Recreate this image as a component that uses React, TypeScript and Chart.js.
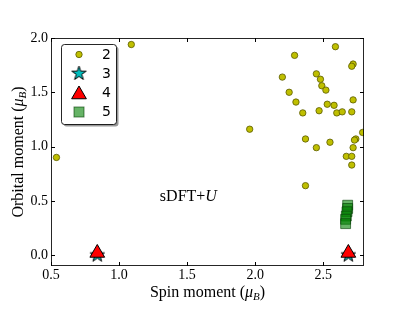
import React, { useEffect, useRef } from 'react';
import { Chart, registerables } from 'chart.js';

Chart.register(...registerables);

// ---- data ----
const spin2 = [0.54, 1.09, 1.96, 2.59, 2.29, 2.72, 2.71, 2.2, 2.45, 2.48, 2.49, 2.52, 2.25, 2.3, 2.72, 2.53, 2.58, 2.47, 2.35, 2.6, 2.64, 2.71, 2.79, 2.74, 2.73, 2.37, 2.55, 2.45, 2.72, 2.67, 2.71, 2.71, 2.37];
const orbital2 = [0.9, 1.94, 1.16, 1.92, 1.84, 1.76, 1.74, 1.64, 1.67, 1.62, 1.56, 1.52, 1.5, 1.41, 1.43, 1.39, 1.38, 1.33, 1.31, 1.31, 1.32, 1.32, 1.13, 1.07, 1.06, 1.07, 1.04, 0.99, 0.99, 0.91, 0.91, 0.83, 0.64];
const spin3 = [0.84, 2.685];
const orbital3 = [0.0, 0.0];
const spin4 = [0.84, 2.685];
const orbital4 = [0.02, 0.02];
const spin5 = [2.68, 2.68, 2.675, 2.67, 2.665, 2.665];
const orbital5 = [0.46, 0.43, 0.4, 0.36, 0.33, 0.29];
const legendLabels = ['2', '3', '4', '5'];
const xLabelText = 'Spin moment (';
const yLabelText = 'Orbital moment (';
const annotationMain = 'sDFT+';
const annotationItalic = 'U';
const annotationPos = [1.3, 0.5];

const toPts = (xs: number[], ys: number[]) => xs.map((x, i) => ({ x, y: ys[i] }));

const YELLOW = '#bfbf00';
const YELLOW_EDGE = '#5a5a00';
const CYAN = '#00bfbf';
const RED = '#ff0000';
const GREEN = 'rgba(0,128,0,0.6)';
const GREEN_EDGE = 'rgba(0,60,0,0.6)';

function makeStar(outer: number, inner: number, fill: string, stroke: string) {
  const size = Math.ceil(outer * 2 + 4);
  const c = document.createElement('canvas');
  c.width = size;
  c.height = size;
  const ctx = c.getContext('2d')!;
  const cx = size / 2;
  const cy = size / 2;
  ctx.beginPath();
  for (let i = 0; i < 10; i++) {
    const r = i % 2 === 0 ? outer : inner;
    const a = -Math.PI / 2 + (i * Math.PI) / 5;
    const px = cx + r * Math.cos(a);
    const py = cy + r * Math.sin(a);
    if (i === 0) ctx.moveTo(px, py);
    else ctx.lineTo(px, py);
  }
  ctx.closePath();
  ctx.fillStyle = fill;
  ctx.fill();
  ctx.lineWidth = 1;
  ctx.strokeStyle = stroke;
  ctx.stroke();
  return c;
}

function drawRich(
  ctx: CanvasRenderingContext2D,
  parts: { t: string; font: string; dy: number }[],
  x: number,
  y: number
) {
  let total = 0;
  for (const p of parts) {
    ctx.font = p.font;
    total += ctx.measureText(p.t).width;
  }
  let cx = x - total / 2;
  ctx.textAlign = 'left';
  ctx.textBaseline = 'alphabetic';
  for (const p of parts) {
    ctx.font = p.font;
    ctx.fillText(p.t, cx, y + p.dy);
    cx += ctx.measureText(p.t).width;
  }
}

function triPath(ctx: CanvasRenderingContext2D, x: number, y: number, r: number) {
  let rad = 0;
  const TWO_THIRDS_PI = (2 * Math.PI) / 3;
  ctx.beginPath();
  ctx.moveTo(x + Math.sin(rad) * r, y - Math.cos(rad) * r);
  rad += TWO_THIRDS_PI;
  ctx.lineTo(x + Math.sin(rad) * r, y - Math.cos(rad) * r);
  rad += TWO_THIRDS_PI;
  ctx.lineTo(x + Math.sin(rad) * r, y - Math.cos(rad) * r);
  ctx.closePath();
}

export default function App() {
  const ref = useRef<HTMLCanvasElement | null>(null);

  useEffect(() => {
    if (!ref.current) return;
    const star = makeStar(7.5, 2.9, CYAN, '#000');

    const decor = {
      id: 'decor',
      afterDraw(chart: any) {
        const ctx: CanvasRenderingContext2D = chart.ctx;
        const { left, right, top, bottom } = chart.chartArea;
        const xs = chart.scales.x;
        const ys = chart.scales.y;
        ctx.save();
        // ticks (inward, all sides)
        ctx.strokeStyle = '#000';
        ctx.lineWidth = 1;
        ctx.beginPath();
        for (const t of xs.ticks) {
          const px = Math.round(xs.getPixelForValue(t.value)) + 0.5;
          ctx.moveTo(px, bottom);
          ctx.lineTo(px, bottom - 4);
          ctx.moveTo(px, top);
          ctx.lineTo(px, top + 4);
        }
        for (const t of ys.ticks) {
          const py = Math.round(ys.getPixelForValue(t.value)) + 0.5;
          ctx.moveTo(left, py);
          ctx.lineTo(left + 4, py);
          ctx.moveTo(right, py);
          ctx.lineTo(right - 4, py);
        }
        ctx.stroke();
        // border
        ctx.strokeStyle = 'rgba(0,0,0,0.85)';
        ctx.strokeRect(Math.round(left) + 0.5, Math.round(top) + 0.5, Math.round(right - left) - 1, Math.round(bottom - top) - 1);

        // annotation
        ctx.fillStyle = '#000';
        const ax = xs.getPixelForValue(annotationPos[0]);
        const ay = ys.getPixelForValue(annotationPos[1]);
        ctx.textAlign = 'left';
        ctx.textBaseline = 'alphabetic';
        ctx.font = '16px "Liberation Serif"';
        ctx.fillText(annotationMain, ax, ay);
        const w = ctx.measureText(annotationMain).width;
        ctx.font = 'italic 16px "Liberation Serif"';
        ctx.fillText(annotationItalic, ax + w, ay);

        // axis titles
        const cxp = (left + right) / 2;
        drawRich(ctx, [
          { t: xLabelText, font: '16px "Liberation Serif"', dy: 0 },
          { t: 'μ', font: 'italic 16px "Liberation Serif"', dy: 0 },
          { t: 'B', font: 'italic 11px "Liberation Serif"', dy: 3 },
          { t: ')', font: '16px "Liberation Serif"', dy: 0 },
        ], cxp, 297);
        ctx.save();
        ctx.translate(22.5, (top + bottom) / 2);
        ctx.rotate(-Math.PI / 2);
        drawRich(ctx, [
          { t: yLabelText, font: '16px "Liberation Serif"', dy: 0 },
          { t: 'μ', font: 'italic 16px "Liberation Serif"', dy: 0 },
          { t: 'B', font: 'italic 11px "Liberation Serif"', dy: 3 },
          { t: ')', font: '16px "Liberation Serif"', dy: 0 },
        ], 0, 0);
        ctx.restore();

        // legend
        const bx = 61.5, by = 44.5, bw = 55, bh = 80;
        ctx.fillStyle = 'rgba(0,0,0,0.4)';
        ctx.beginPath();
        (ctx as any).roundRect(bx + 2, by + 2, bw, bh, 3);
        ctx.fill();
        ctx.fillStyle = '#fff';
        ctx.strokeStyle = 'rgba(0,0,0,0.85)';
        ctx.beginPath();
        (ctx as any).roundRect(bx, by, bw, bh, 3);
        ctx.fill();
        ctx.stroke();

        const mx = 79;
        const rows = [54.5, 73.5, 92.5, 112];
        // circle
        ctx.beginPath();
        ctx.arc(mx, rows[0], 3.2, 0, Math.PI * 2);
        ctx.fillStyle = YELLOW;
        ctx.fill();
        ctx.lineWidth = 0.8;
        ctx.strokeStyle = YELLOW_EDGE;
        ctx.stroke();
        // star
        ctx.drawImage(star, mx - star.width / 2, rows[1] - star.height / 2);
        // triangle
        triPath(ctx, mx, rows[2] + 2, 8.5);
        ctx.fillStyle = RED;
        ctx.fill();
        ctx.lineWidth = 1;
        ctx.strokeStyle = '#000';
        ctx.stroke();
        // square
        ctx.fillStyle = GREEN;
        ctx.strokeStyle = GREEN_EDGE;
        ctx.fillRect(mx - 5, rows[3] - 5, 10, 10);
        ctx.strokeRect(mx - 5, rows[3] - 5, 10, 10);

        ctx.fillStyle = '#000';
        ctx.font = '14px "DejaVu Sans"';
        ctx.textAlign = 'left';
        ctx.textBaseline = 'middle';
        legendLabels.forEach((l, i) => ctx.fillText(l, 102, rows[i] + 0.5));
        ctx.restore();
      },
    };

    const chart = new Chart(ref.current, {
      type: 'scatter',
      data: {
        datasets: [
          {
            label: legendLabels[0],
            data: toPts(spin2, orbital2),
            backgroundColor: YELLOW,
            borderColor: YELLOW_EDGE,
            borderWidth: 0.8,
            pointRadius: 3.2,
            order: 4,
            clip: 0,
          } as any,
          {
            label: legendLabels[1],
            data: toPts(spin3, orbital3),
            pointStyle: star,
            pointRadius: 7,
            order: 3,
            clip: false,
          },
          {
            label: legendLabels[2],
            data: toPts(spin4, orbital4),
            pointStyle: 'triangle',
            backgroundColor: RED,
            borderColor: '#000',
            borderWidth: 1,
            pointRadius: 8.5,
            order: 2,
            clip: false,
          },
          {
            label: legendLabels[3],
            data: toPts(spin5, orbital5),
            pointStyle: 'rect',
            backgroundColor: GREEN,
            borderColor: GREEN_EDGE,
            borderWidth: 1,
            pointRadius: 7,
            order: 1,
            clip: false,
          },
        ],
      },
      options: {
        animation: false,
        responsive: false,
        devicePixelRatio: 1,
        layout: { padding: { left: 0, right: 51, top: 38, bottom: 0 } },
        plugins: { legend: { display: false }, tooltip: { enabled: false } },
        events: [],
        scales: {
          x: {
            type: 'linear',
            min: 0.5,
            max: 2.8,
            grid: { display: false, drawTicks: false },
            border: { display: false },
            ticks: {
              stepSize: 0.5,
              includeBounds: false,
              padding: 1,
              color: '#000',
              font: { family: '"Liberation Serif"', size: 14 },
              maxRotation: 0,
              callback: (v: any) => Number(v).toFixed(1),
            },
            afterFit: (s: any) => {
              s.height = 46;
            },
          },
          y: {
            type: 'linear',
            min: -0.1,
            max: 2.0,
            grid: { display: false, drawTicks: false },
            border: { display: false },
            ticks: {
              stepSize: 0.5,
              includeBounds: false,
              padding: 3,
              color: '#000',
              font: { family: '"Liberation Serif"', size: 14 },
              callback: (v: any) => Number(v).toFixed(1),
            },
            afterFit: (s: any) => {
              s.width = 51;
            },
          },
        },
      },
      plugins: [decor],
    });
    return () => chart.destroy();
  }, []);

  return (
    <div style={{ position: 'fixed', left: 0, top: 0, width: 415, height: 312, background: '#fff' }}>
      <canvas ref={ref} width={415} height={312} style={{ display: 'block' }} />
    </div>
  );
}
